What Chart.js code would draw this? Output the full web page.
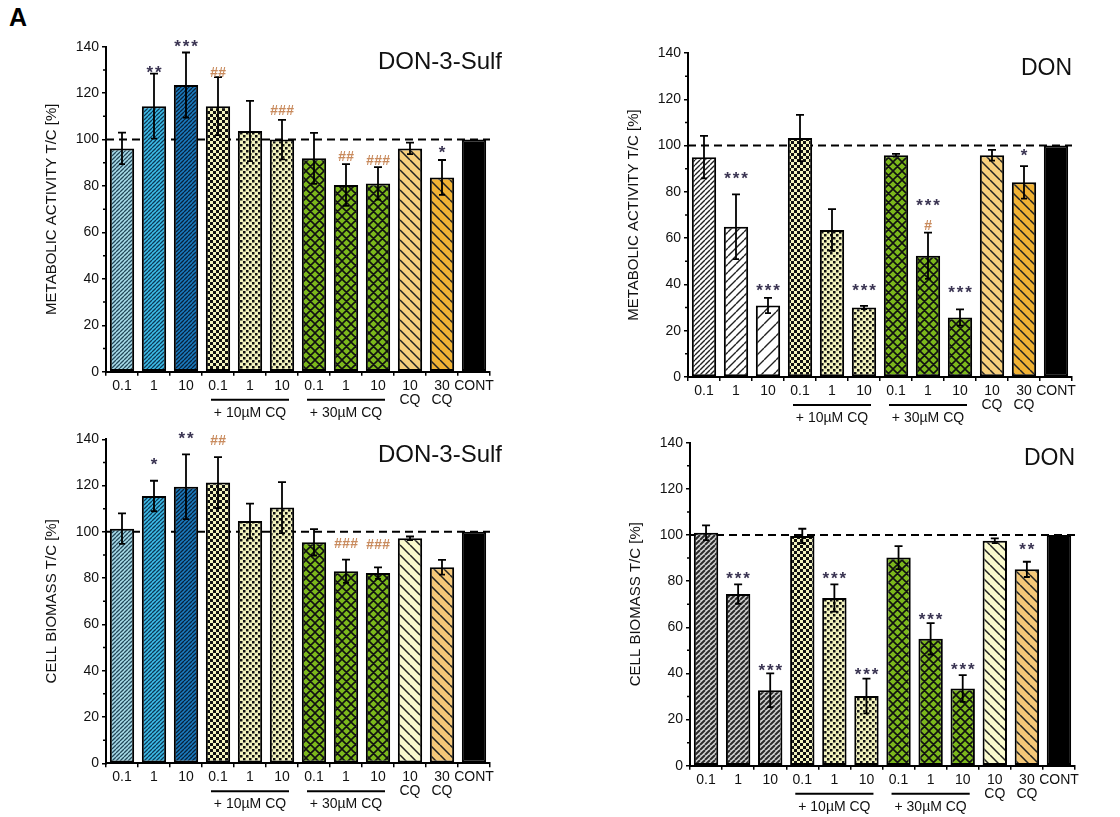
<!DOCTYPE html>
<html>
<head>
<meta charset="utf-8">
<script src="https://cdn.jsdelivr.net/npm/chart.js@4.4.1/dist/chart.umd.min.js"></script>
<style>
body { margin: 0; background: #fff; width: 1120px; height: 817px; position: relative; overflow: hidden; font-family: 'Liberation Sans', Arial, sans-serif; }
canvas { position: absolute; }
#lblA { position: absolute; left: 9px; top: 3px; font-weight: bold; font-size: 25px; color: #000; }
</style>
</head>
<body>
<div id="lblA">A</div>
<canvas id="metabSulfChart" width="560" height="425" style="left:0;top:0"></canvas>
<canvas id="metabDonChart" width="560" height="425" style="left:560px;top:0"></canvas>
<canvas id="biomassSulfChart" width="560" height="392" style="left:0;top:425px"></canvas>
<canvas id="biomassDonChart" width="560" height="392" style="left:560px;top:425px"></canvas>
<script>
// categories
const doseLabels = ['0.1', '1', '10', '0.1', '1', '10', '0.1', '1', '10', ['10', 'CQ'], ['30', 'CQ'], 'CONT'];
const groups = [
    { from: 3, to: 5, text: '+ 10\u00b5M CQ' },
    { from: 6, to: 8, text: '+ 30\u00b5M CQ' }
];

// metabolic activity, DON-3-Sulf
const metabSulf = [96.2, 114.4, 123.5, 114.4, 103.7, 100, 91.9, 80.4, 81.1, 96.2, 83.7, 100];
const metabSulfErr = [6.8, 14, 14, 12.5, 13, 8.5, 11, 9, 7, 2.5, 7.5, 0];
const metabSulfMarks = [[1, '**', 130.7], [2, '***', 141.7], [3, '##', 129], [5, '###', 112.7], [7, '##', 93], [8, '###', 91], [10, '*', 96]];

// metabolic activity, DON
const metabDon = [95, 64.9, 30.9, 103.3, 63.5, 30, 95.8, 52.4, 25.7, 95.8, 84.1, 100];
const metabDonErr = [9.2, 14, 3.3, 10, 9, 0.7, 0.6, 10, 3.5, 2.3, 7, 0];
const metabDonMarks = [[1, '***', 87.3], [2, '***', 39.3], [5, '***', 39.3], [7, '***', 75.8], [7, '#', 65.7], [8, '***', 38.2], [10, '*', 97.4]];

// cell biomass, DON-3-Sulf
const biomassSulf = [101.4, 115.5, 119.5, 121.3, 104.7, 110.5, 95.5, 83, 82.2, 97.2, 84.7, 100];
const biomassSulfErr = [6.6, 6.6, 14, 11, 7.5, 11, 5.7, 5, 2.5, 0.8, 3.2, 0];
const biomassSulfMarks = [[1, '*', 131], [2, '**', 141.9], [3, '##', 139.7], [7, '###', 95.3], [8, '###', 94.8]];

// cell biomass, DON
const biomassDon = [101, 74.4, 32.7, 99.6, 72.7, 30.2, 90.2, 55, 33.5, 97.5, 85.1, 100];
const biomassDonErr = [3.2, 4.2, 7.3, 3.1, 5.9, 7.5, 5, 6.8, 5.8, 1, 3.3, 0];
const biomassDonMarks = [[1, '***', 83], [2, '***', 43], [4, '***', 83], [5, '***', 41.2], [7, '***', 65.3], [8, '***', 43.6], [10, '**', 95.4]];

const FONT = "'Liberation Sans', Arial, sans-serif";
Chart.defaults.font.family = FONT;
const XAXIS_H = 42;

// ---- fill patterns ----
function tile(size, draw) {
    const c = document.createElement('canvas');
    c.width = c.height = size;
    draw(c.getContext('2d'), size);
    return c;
}

function hatch(ctx, bg, fg, size, lw, dirs) {
    return ctx.createPattern(tile(size, (g, s) => {
        g.fillStyle = bg;
        g.fillRect(0, 0, s, s);
        g.strokeStyle = fg;
        g.lineWidth = lw;
        g.beginPath();
        for (let k = -1; k <= 1; k++) {
            if (dirs.includes('/')) { g.moveTo(k * s, s); g.lineTo(k * s + s, 0); }
            if (dirs.includes('\\')) { g.moveTo(k * s, 0); g.lineTo(k * s + s, s); }
        }
        g.stroke();
    }), 'repeat');
}

function checker(ctx, bg, fg, size, sq) {
    return ctx.createPattern(tile(size, (g, s) => {
        g.fillStyle = bg;
        g.fillRect(0, 0, s, s);
        g.fillStyle = fg;
        g.fillRect(0, 0, sq, sq);
        g.fillRect(s / 2, s / 2, sq, sq);
    }), 'repeat');
}

function sulfFills(ctx, cq10) {
    return [
        hatch(ctx, '#a9dcea', '#24485a', 4, 1.3, '/'),
        hatch(ctx, '#3dbde9', '#0c3a58', 4, 1.3, '/'),
        hatch(ctx, '#1b7bbf', '#07223c', 4, 1.3, '/'),
        checker(ctx, '#f3f3bd', '#111', 6, 3),
        checker(ctx, '#f3f3bd', '#111', 6, 2.5),
        checker(ctx, '#f3f3bd', '#111', 6, 2.5),
        hatch(ctx, '#7cb81c', '#111', 9, 1.6, '/\\'),
        hatch(ctx, '#7cb81c', '#111', 9, 1.6, '/\\'),
        hatch(ctx, '#7cb81c', '#111', 9, 1.6, '/\\'),
        hatch(ctx, cq10, '#222', 10, 1.5, '\\'),
        hatch(ctx, '#f1b234', '#222', 10, 1.5, '\\'),
        '#000'
    ];
}

function donFills(ctx, first, cq10, cq30) {
    return first.concat([
        checker(ctx, '#f3f3bd', '#111', 6, 3),
        checker(ctx, '#f3f3bd', '#111', 6, 2.5),
        checker(ctx, '#f3f3bd', '#111', 6, 2.5),
        hatch(ctx, '#7cb81c', '#111', 9, 1.6, '/\\'),
        hatch(ctx, '#7cb81c', '#111', 9, 1.6, '/\\'),
        hatch(ctx, '#7cb81c', '#111', 9, 1.6, '/\\'),
        hatch(ctx, cq10, '#222', 10, 1.5, '\\'),
        hatch(ctx, cq30, '#222', 10, 1.5, '\\'),
        '#000'
    ]);
}

// ---- decorations: dashed 100% line, error bars, marks, labels ----
const panelPlugin = {
    id: 'panel',
    beforeDatasetsDraw(chart) {
        const { ctx, chartArea } = chart;
        const y = chart.scales.y.getPixelForValue(100);
        ctx.save();
        ctx.strokeStyle = '#000';
        ctx.lineWidth = 2;
        ctx.setLineDash([8, 5]);
        ctx.beginPath();
        ctx.moveTo(chartArea.left, y);
        ctx.lineTo(chartArea.right, y);
        ctx.stroke();
        ctx.restore();
    },
    afterDatasetsDraw(chart, args, opts) {
        const { ctx } = chart;
        const ys = chart.scales.y, xs = chart.scales.x;
        const values = chart.data.datasets[0].data;
        ctx.save();
        ctx.strokeStyle = '#000';
        ctx.lineWidth = 1.8;
        opts.errs.forEach((e, i) => {
            if (!e) return;
            const x = xs.getPixelForValue(i);
            const top = ys.getPixelForValue(values[i] + e);
            const bot = ys.getPixelForValue(values[i] - e);
            ctx.beginPath();
            ctx.moveTo(x, top); ctx.lineTo(x, bot);
            ctx.moveTo(x - 4, top); ctx.lineTo(x + 4, top);
            ctx.moveTo(x - 3, bot); ctx.lineTo(x + 3, bot);
            ctx.stroke();
        });
        // significance marks
        opts.marks.forEach(([i, text, level]) => {
            const x = xs.getPixelForValue(i);
            const y = ys.getPixelForValue(level);
            const star = text[0] === '*';
            const size = star ? 17 : 14;
            const step = star ? 8.5 : 8;
            ctx.font = (star ? 'bold ' : 'italic bold ') + size + 'px ' + FONT;
            ctx.fillStyle = star ? '#3a3452' : '#c98b5e';
            ctx.textAlign = 'center';
            ctx.textBaseline = 'alphabetic';
            const base = y + (star ? 0.56 : 0.36) * size;
            const x0 = x - (text.length - 1) * step / 2;
            for (let k = 0; k < text.length; k++) ctx.fillText(text[k], x0 + k * step, base);
        });
        ctx.restore();
    },
    afterDraw(chart, args, opts) {
        const { ctx, chartArea } = chart;
        const ys = chart.scales.y, xs = chart.scales.x;
        ctx.save();
        // minor y ticks
        ctx.strokeStyle = '#000';
        ctx.lineWidth = 1.5;
        ctx.beginPath();
        for (let v = 10; v < 140; v += 20) {
            const y = ys.getPixelForValue(v);
            ctx.moveTo(chartArea.left - 3, y);
            ctx.lineTo(chartArea.left, y);
        }
        ctx.stroke();
        // group brackets
        ctx.fillStyle = '#111';
        ctx.font = '14px ' + FONT;
        ctx.textAlign = 'center';
        ctx.textBaseline = 'middle';
        groups.forEach(g => {
            const x1 = xs.getPixelForValue(g.from) - 7;
            const x2 = xs.getPixelForValue(g.to) + 7;
            const y = chartArea.bottom + 28;
            ctx.lineWidth = 2;
            ctx.beginPath();
            ctx.moveTo(x1, y); ctx.lineTo(x2, y);
            ctx.stroke();
            ctx.fillText(g.text, (x1 + x2) / 2, chartArea.bottom + 41);
        });
        // y label
        ctx.save();
        ctx.translate(chartArea.left - 54, (chartArea.top + chartArea.bottom) / 2);
        ctx.rotate(-Math.PI / 2);
        ctx.font = '15px ' + FONT;
        ctx.fillStyle = '#111';
        ctx.fillText(opts.ylabel, 0, 0);
        ctx.restore();
        // panel title
        ctx.font = opts.titleSize + 'px ' + FONT;
        ctx.fillStyle = '#111';
        ctx.textAlign = 'right';
        ctx.fillText(opts.title, chartArea.right + opts.titleDx, chartArea.top + 16);
        ctx.restore();
    }
};

function makeChart(id, values, errs, marks, fillsFn, title, titleSize, titleDx, ylabel, area) {
    const cv = document.getElementById(id);
    const ctx = cv.getContext('2d');
    const W = cv.width, H = cv.height;
    return new Chart(cv, {
        type: 'bar',
        data: {
            labels: doseLabels,
            datasets: [{
                data: values,
                backgroundColor: fillsFn(ctx),
                borderColor: '#000',
                borderWidth: 2,
                borderSkipped: false,
                barPercentage: 0.76,
                categoryPercentage: 1
            }]
        },
        options: {
            responsive: false,
            animation: false,
            devicePixelRatio: 1,
            layout: { padding: { left: area.left - 50, right: W - area.right, top: area.top, bottom: H - area.bottom - XAXIS_H } },
            plugins: {
                legend: { display: false },
                tooltip: { enabled: false },
                panel: { errs, marks, title, titleSize, titleDx, ylabel }
            },
            scales: {
                x: {
                    grid: { offset: true, drawOnChartArea: false, tickLength: 4, color: '#000', lineWidth: 1.5 },
                    border: { color: '#000', width: 2 },
                    ticks: { color: '#111', font: { size: 14, lineHeight: 1 }, padding: 3, maxRotation: 0, autoSkip: false },
                    afterFit(s) { s.height = XAXIS_H; }
                },
                y: {
                    min: 0,
                    max: 140,
                    ticks: { stepSize: 20, color: '#111', font: { size: 14 }, padding: 3 },
                    grid: { drawOnChartArea: false, tickLength: 4, color: '#000', lineWidth: 1.5 },
                    border: { color: '#000', width: 2 },
                    afterFit(s) { s.width = 50; }
                }
            }
        },
        plugins: [panelPlugin]
    });
}

makeChart('metabSulfChart', metabSulf, metabSulfErr, metabSulfMarks,
    ctx => sulfFills(ctx, '#f7cf7c'),
    'DON-3-Sulf', 24, 12, 'METABOLIC ACTIVITY T/C [%]',
    { left: 106, right: 490, top: 46.7, bottom: 371.7 });

makeChart('metabDonChart', metabDon, metabDonErr, metabDonMarks,
    ctx => donFills(ctx, [
        hatch(ctx, '#fff', '#222', 5, 1.4, '/'),
        hatch(ctx, '#fff', '#222', 8, 1.4, '/'),
        hatch(ctx, '#fff', '#222', 12, 1.4, '/')
    ], '#f7cf7c', '#f1b234'),
    'DON', 23, 0, 'METABOLIC ACTIVITY T/C [%]',
    { left: 128, right: 512, top: 53, bottom: 377 });

makeChart('biomassSulfChart', biomassSulf, biomassSulfErr, biomassSulfMarks,
    ctx => {
        const f = sulfFills(ctx, '#fafacd');
        f[10] = hatch(ctx, '#f5c878', '#222', 10, 1.5, '\\');
        return f;
    },
    'DON-3-Sulf', 24, 12, 'CELL BIOMASS T/C [%]',
    { left: 106, right: 490, top: 14.3, bottom: 338.3 });

makeChart('biomassDonChart', biomassDon, biomassDonErr, biomassDonMarks,
    ctx => donFills(ctx, [
        hatch(ctx, '#d2d2d2', '#2a2a2a', 5, 2, '/'),
        hatch(ctx, '#d2d2d2', '#2a2a2a', 5, 2, '/'),
        hatch(ctx, '#d2d2d2', '#2a2a2a', 5, 2, '/')
    ], '#fafacd', '#f5c878'),
    'DON', 23, 0, 'CELL BIOMASS T/C [%]',
    { left: 130, right: 515, top: 17.7, bottom: 340.7 });
</script>
</body>
</html>
